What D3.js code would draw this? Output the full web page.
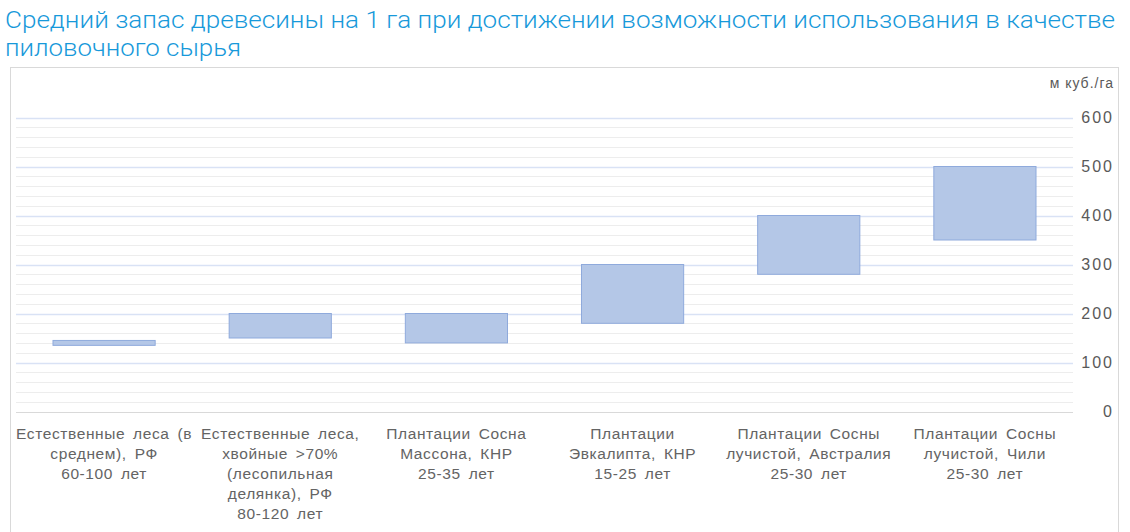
<!DOCTYPE html>
<html lang="ru">
<head>
<meta charset="utf-8">
<title>Средний запас древесины</title>
<script src="https://cdnjs.cloudflare.com/ajax/libs/d3/7.8.5/d3.min.js"></script>
<style>
    body { margin: 0; background: #fff; }
    svg { display: block; }
</style>
</head>
<body>
<div id="chart"></div>
<script>
    // categories (already split into lines as on the picture)
    const categories = [
        ["Естественные леса (в", "среднем), РФ", "60-100 лет"],
        ["Естественные леса,", "хвойные >70%", "(лесопильная", "делянка), РФ", "80-120 лет"],
        ["Плантации Сосна", "Массона, КНР", "25-35 лет"],
        ["Плантации", "Эвкалипта, КНР", "15-25 лет"],
        ["Плантации Сосны", "лучистой, Австралия", "25-30 лет"],
        ["Плантации Сосны", "лучистой, Чили", "25-30 лет"]
    ];
    const lowValues  = [135, 150, 140, 180, 280, 350];
    const highValues = [145, 200, 200, 300, 400, 500];
    const yTicks = [0, 100, 200, 300, 400, 500, 600];
    const titleLines = [
        "Средний запас древесины на 1 га при достижении возможности использования в качестве",
        "пиловочного сырья"
    ];
    const unitLabel = "м куб./га";

    const W = 1130, H = 532;
    const plot = {left: 16, right: 1073, top: 117.5, bottom: 411.5};
    const labelFont = "'Liberation Sans', Arial, sans-serif";

    const svg = d3.select("#chart").append("svg")
        .attr("width", W)
        .attr("height", H);

    // title
    let titleLen = [1110, 236];
    svg.append("g").selectAll("text")
        .data(titleLines)
        .enter().append("text")
        .attr("x", 5)
        .attr("y", (d, i) => 28 + i * 28)
        .attr("fill", "#1799da")
        .style("font-family", "Roboto, sans-serif")
        .style("font-weight", 300)
        .style("font-size", "24px")
        .attr("textLength", (d, i) => titleLen[i])
        .attr("lengthAdjust", "spacingAndGlyphs")
        .text(d => d);

    // chart frame
    svg.append("rect")
        .attr("x", 10.5).attr("y", 67.5)
        .attr("width", 1108).attr("height", 480)
        .attr("fill", "none")
        .attr("stroke", "#d9d9d9");

    let x = d3.scaleBand()
        .domain(d3.range(categories.length))
        .range([plot.left, plot.right])
        .paddingInner(0.42)
        .paddingOuter(0.21);

    let y = d3.scaleLinear()
        .domain([0, 600])
        .range([plot.bottom, plot.top]);

    // minor gridlines
    svg.append("g").selectAll("line")
        .data(d3.range(20, 600, 20).filter(v => v % 100 != 0))
        .enter().append("line")
        .attr("x1", plot.left).attr("x2", plot.right)
        .attr("y1", d => Math.round(y(d)) + 0.5).attr("y2", d => Math.round(y(d)) + 0.5)
        .attr("stroke", "#ededed");

    // major gridlines
    svg.append("g").selectAll("line")
        .data(yTicks.filter(v => v > 0))
        .enter().append("line")
        .attr("x1", plot.left).attr("x2", plot.right)
        .attr("y1", d => Math.round(y(d)) + 0.5).attr("y2", d => Math.round(y(d)) + 0.5)
        .attr("stroke", "#d9e2f5")
        .attr("stroke-width", 1.3);

    // base line
    svg.append("line")
        .attr("x1", plot.left).attr("x2", plot.right)
        .attr("y1", Math.round(y(0)) + 0.5).attr("y2", Math.round(y(0)) + 0.5)
        .attr("stroke", "#d9d9d9");

    // y axis on the right
    let yAxis = d3.axisRight(y).tickValues(yTicks).tickSize(0).tickPadding(0);
    let ya = svg.append("g")
        .attr("transform", "translate(1114,0)")
        .call(yAxis);
    ya.select(".domain").remove();
    ya.selectAll("text")
        .attr("text-anchor", "end")
        .attr("fill", "#595959")
        .style("font-family", labelFont)
        .style("font-size", "16px")
        .style("letter-spacing", "2px");

    svg.append("text")
        .attr("x", 1114).attr("y", 88)
        .attr("text-anchor", "end")
        .attr("fill", "#595959")
        .style("font-family", labelFont)
        .style("font-size", "14px")
        .style("letter-spacing", "1px")
        .text(unitLabel);

    // floating bars
    svg.append("g").selectAll("rect")
        .data(categories.map((c, i) => ({i: i, lo: lowValues[i], hi: highValues[i]})))
        .enter().append("rect")
        .attr("x", d => x(d.i))
        .attr("y", d => y(d.hi))
        .attr("width", x.bandwidth())
        .attr("height", d => y(d.lo) - y(d.hi))
        .attr("fill", "#b4c7e7")
        .attr("stroke", "#8faadc")
        .attr("stroke-width", 1);

    // category labels
    let labels = svg.append("g").selectAll("text")
        .data(categories)
        .enter().append("text")
        .attr("text-anchor", "middle")
        .attr("fill", "#646464")
        .style("font-family", labelFont)
        .style("font-size", "15.5px")
        .style("letter-spacing", "0.6px")
        .style("word-spacing", "3px");
    labels.selectAll("tspan")
        .data((d, i) => d.map(t => ({t: t, i: i})))
        .enter().append("tspan")
        .attr("x", d => x(d.i) + x.bandwidth() / 2)
        .attr("y", (d, j) => 439 + j * 20)
        .text(d => d.t);
</script>
</body>
</html>
